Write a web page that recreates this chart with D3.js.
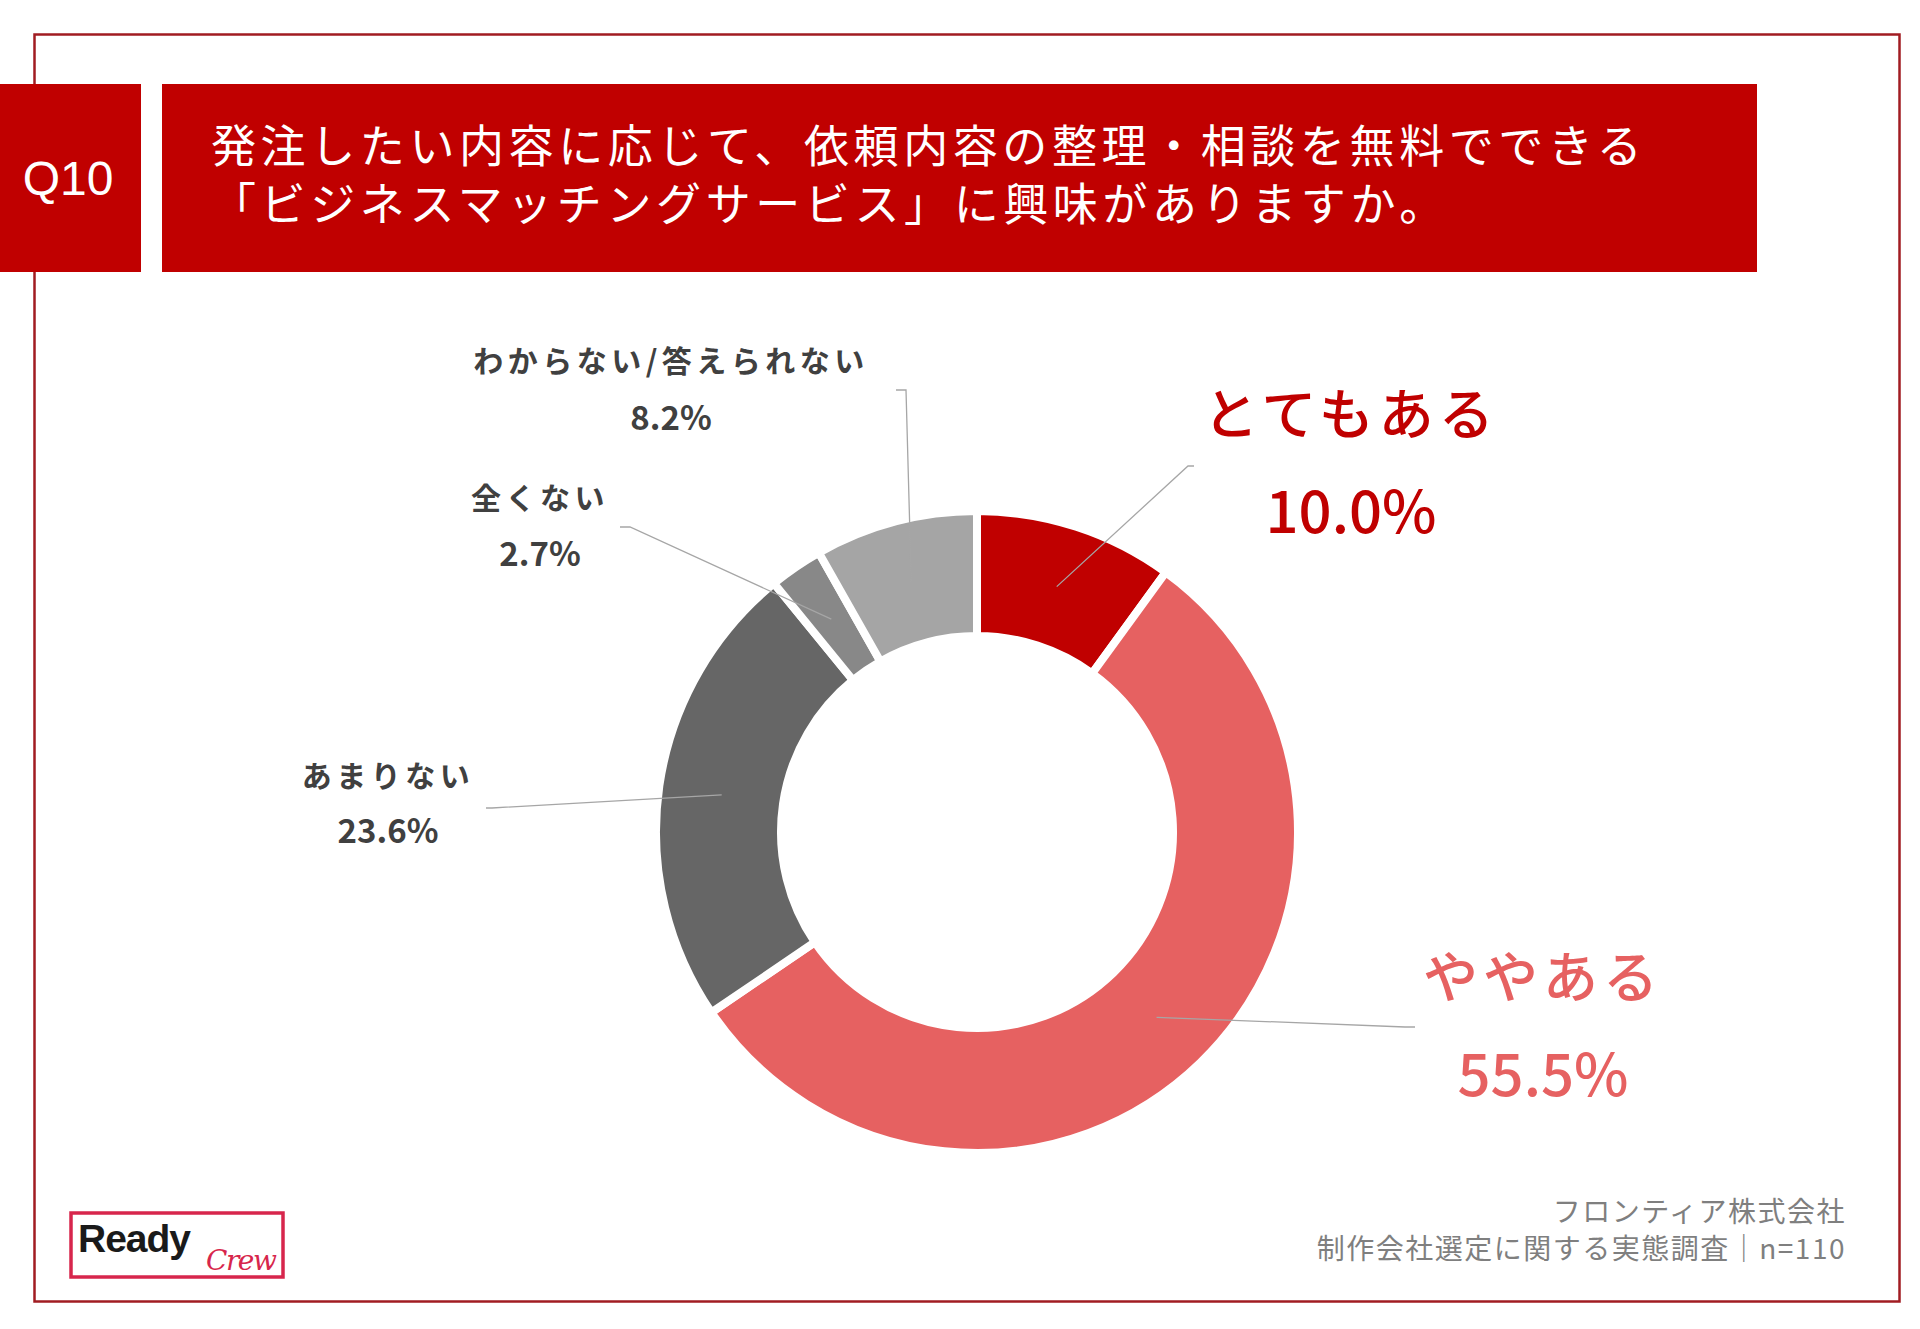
<!DOCTYPE html>
<html>
<head>
<meta charset="utf-8">
<script src="https://cdn.jsdelivr.net/npm/d3@7"></script>
<style>
  html, body { margin: 0; padding: 0; background: #fff; }
  svg text { font-family: "Noto Sans CJK JP", "Noto Sans", sans-serif; }
</style>
</head>
<body>
<div id="chart"></div>
<script>
var W = 1920,
	H = 1329,
	cx = 977,
	cy = 832,
	rOuter = 321,
	rInner = 196,
	rLeader = 258;

// data
var categories = ["とてもある", "ややある", "あまりない", "全くない", "わからない/答えられない"];
var values = [10.0, 55.5, 23.6, 2.7, 8.2];
var valueLabels = ["10.0%", "55.5%", "23.6%", "2.7%", "8.2%"];
var titleLines = ["発注したい内容に応じて、依頼内容の整理・相談を無料でできる",
	"「ビジネスマッチングサービス」に興味がありますか。"];
var footerLines = ["フロンティア株式会社", "制作会社選定に関する実態調査｜n=110"];

// styles
var sliceColors = ["#C00000", "#E66161", "#666666", "#888888", "#A5A5A5"];
var labelColors = ["#C00000", "#E66161", "#404040", "#404040", "#404040"];

// label layout: name/value centres and the elbow of the leader line
var labelLayout = [
	{ x: 1351, ny: 410, vy: 508, big: true, elbow: [[1194, 466], [1188, 466]] },
	{ x: 1543, ny: 973, vy: 1071, big: true, elbow: [[1415, 1027], [1405, 1027]] },
	{ x: 388, ny: 774, vy: 829, big: false, elbow: [[486, 808], [492, 808]] },
	{ x: 540, ny: 496, vy: 552, big: false, elbow: [[620, 527], [630, 527]] },
	{ x: 671, ny: 359, vy: 416, big: false, elbow: [[896, 390], [906, 390]] }
];

var svg = d3.select("#chart").append("svg")
	.attr("width", W)
	.attr("height", H);

// outer frame
svg.append("rect")
	.attr("x", 34.5).attr("y", 34.5)
	.attr("width", 1865).attr("height", 1267)
	.style("fill", "none")
	.style("stroke", "#A11C22")
	.style("stroke-width", 2.5);

// Q10 box + title bar
svg.append("rect").attr("x", 0).attr("y", 84).attr("width", 141).attr("height", 188).style("fill", "#C00000");
svg.append("text")
	.attr("x", 68).attr("y", 178)
	.attr("text-anchor", "middle")
	.attr("dominant-baseline", "central")
	.style("font-family", "'Liberation Sans', Arial, sans-serif")
	.style("font-size", "48px")
	.style("fill", "#fff")
	.text("Q10");

svg.append("rect").attr("x", 162).attr("y", 84).attr("width", 1595).attr("height", 188).style("fill", "#C00000");
svg.selectAll(".title")
	.data(titleLines)
	.enter().append("text")
	.attr("class", "title")
	.attr("x", 211)
	.attr("y", function(d, i) { return 143 + i * 58; })
	.attr("dominant-baseline", "central")
	.style("font-size", "45px")
	.style("letter-spacing", "4.6px")
	.style("fill", "#fff")
	.text(function(d) { return d; });

// donut
var pie = d3.pie().sort(null).value(function(d) { return d; });
var arcs = pie(values);
var arc = d3.arc().innerRadius(rInner).outerRadius(rOuter);
var leaderArc = d3.arc().innerRadius(rLeader).outerRadius(rLeader);

var g = svg.append("g").attr("transform", "translate(" + cx + "," + cy + ")");

g.selectAll(".slice")
	.data(arcs)
	.enter().append("path")
	.attr("class", "slice")
	.attr("d", arc)
	.style("fill", function(d, i) { return sliceColors[i]; })
	.style("stroke", "#fff")
	.style("stroke-width", 8);

// leader lines
var line = d3.line();
svg.selectAll(".leader")
	.data(arcs)
	.enter().append("path")
	.attr("class", "leader")
	.attr("d", function(d, i) {
		var c = leaderArc.centroid(d);
		var pts = labelLayout[i].elbow.slice();
		pts.push([c[0] + cx, c[1] + cy]);
		return line(pts);
	})
	.style("fill", "none")
	.style("stroke", "#A6A6A6")
	.style("stroke-width", 1.3);

// labels
var labels = svg.selectAll(".lab")
	.data(categories)
	.enter().append("g")
	.attr("class", "lab");

labels.append("text")
	.attr("x", function(d, i) { return labelLayout[i].x; })
	.attr("y", function(d, i) { return labelLayout[i].ny; })
	.attr("text-anchor", "middle")
	.attr("dominant-baseline", "central")
	.style("font-size", function(d, i) { return labelLayout[i].big ? "55px" : "30px"; })
	.style("letter-spacing", function(d, i) { return labelLayout[i].big ? "5px" : "4.5px"; })
	.style("font-weight", function(d, i) { return labelLayout[i].big ? 500 : 700; })
	.style("fill", function(d, i) { return labelColors[i]; })
	.text(function(d) { return d; });

labels.append("text")
	.attr("x", function(d, i) { return labelLayout[i].x; })
	.attr("y", function(d, i) { return labelLayout[i].vy; })
	.attr("text-anchor", "middle")
	.attr("dominant-baseline", "central")
	.style("font-size", function(d, i) { return labelLayout[i].big ? "58px" : "33px"; })
	.style("font-weight", function(d, i) { return labelLayout[i].big ? 500 : 700; })
	.style("fill", function(d, i) { return labelColors[i]; })
	.text(function(d, i) { return valueLabels[i]; });

// footer
svg.selectAll(".foot")
	.data(footerLines)
	.enter().append("text")
	.attr("class", "foot")
	.attr("x", 1846)
	.attr("y", function(d, i) { return 1210 + i * 37; })
	.attr("text-anchor", "end")
	.attr("dominant-baseline", "central")
	.style("font-size", "28px")
	.style("letter-spacing", "1.5px")
	.style("fill", "#7F7F7F")
	.text(function(d) { return d; });

// logo
svg.append("rect")
	.attr("x", 71).attr("y", 1213)
	.attr("width", 212).attr("height", 64)
	.style("fill", "#fff")
	.style("stroke", "#D7264C")
	.style("stroke-width", 3.5);
svg.append("text")
	.attr("x", 78).attr("y", 1252)
	.style("font-family", "'Liberation Sans', Arial, sans-serif")
	.style("font-weight", 700)
	.style("font-size", "39px")
	.style("letter-spacing", "-1px")
	.style("fill", "#1a1a1a")
	.text("Ready");
svg.append("text")
	.attr("x", 206).attr("y", 1270)
	.style("font-family", "'DejaVu Serif', serif")
	.style("font-style", "italic")
	.style("font-size", "28px")
	.style("letter-spacing", "-1.5px")
	.style("fill", "#D7264C")
	.text("Crew");
</script>
</body>
</html>
